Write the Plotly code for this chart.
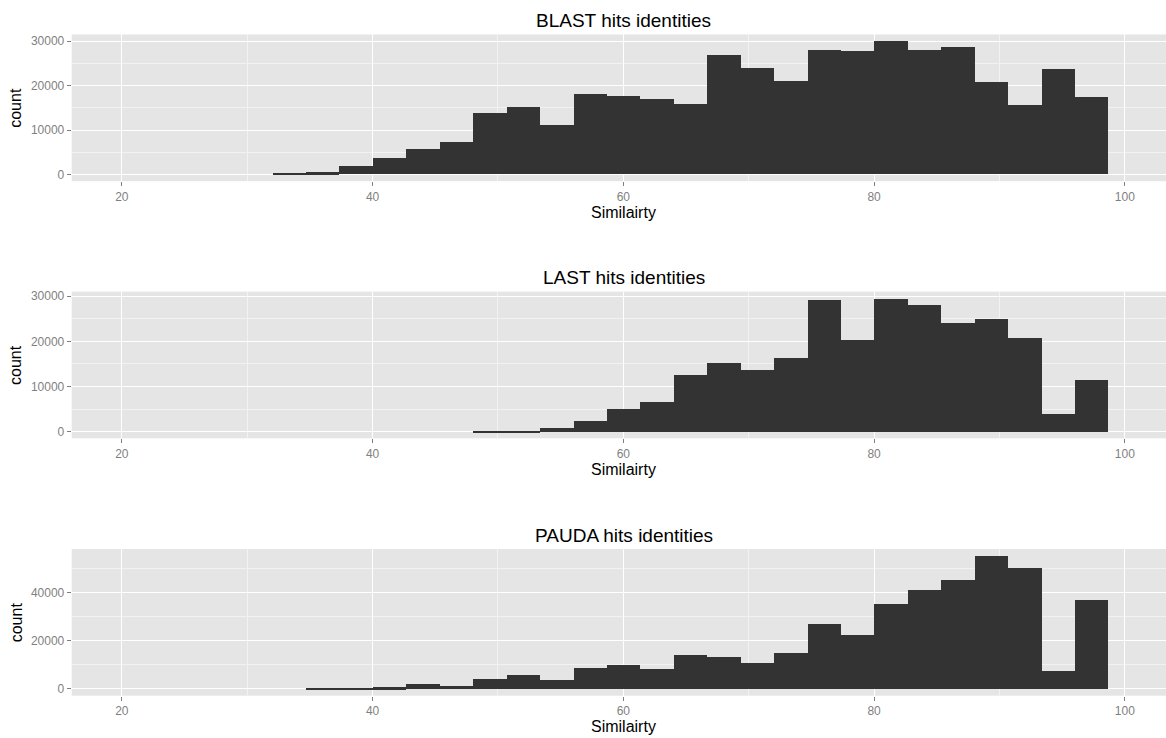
import plotly.graph_objects as go

# Histogram bins of percent similarity (bin width 8/3, left edges)
bin_width = 8 / 3
bin_left = [32.0, 34.667, 37.333, 40.0, 42.667, 45.333, 48.0, 50.667, 53.333,
            56.0, 58.667, 61.333, 64.0, 66.667, 69.333, 72.0, 74.667, 77.333,
            80.0, 82.667, 85.333, 88.0, 90.667, 93.333, 96.0]

blast_counts = [150, 400, 1700, 3600, 5600, 7100, 13760, 15180, 11000,
                17950, 17580, 16980, 15860, 26700, 23930, 20940, 27900, 27600,
                30000, 27900, 28500, 20640, 15560, 23700, 17350]

last_counts = [0, 0, 0, 0, 0, 0, 100, 300, 800,
               2500, 5160, 6630, 12530, 15250, 13780, 16450, 29180, 20340,
               29550, 28080, 24240, 25050, 20850, 4050, 11640]

pauda_counts = [0, 150, 150, 830, 1940, 1390, 4170, 5830, 3600,
                8600, 9860, 8190, 14300, 13470, 10830, 15140, 26940, 22500,
                35560, 41390, 45560, 55560, 50560, 7360, 37080]

panel_titles = ["BLAST hits identities", "LAST hits identities", "PAUDA hits identities"]
panel_counts = [blast_counts, last_counts, pauda_counts]
y_dticks = [10000, 10000, 20000]
x_title = "Similairty"
y_title = "count"

W, H = 1166, 738
FONT = "Liberation Sans"
PANEL_LEFT = 71.7
PANEL_H = 147.3
panel_tops = [32.6, 290.8, 549.2]
x_range = [16, 16 + (W - PANEL_LEFT) / 12.5375]

bin_centers = [b + bin_width / 2 for b in bin_left]

fig = go.Figure()
annotations = []
for i, (title, counts, dt) in enumerate(zip(panel_titles, panel_counts, y_dticks)):
    n = "" if i == 0 else str(i + 1)
    top = panel_tops[i]
    bottom = top + PANEL_H
    fig.add_trace(go.Bar(
        x=bin_centers, y=counts, width=bin_width,
        marker=dict(color="#333333", line=dict(width=0)),
        xaxis="x" + n, yaxis="y" + n, showlegend=False, hoverinfo="x+y",
    ))
    ymax = max(counts)
    axis_common = dict(
        showgrid=True, gridcolor="#FFFFFF", gridwidth=1.4, zeroline=False,
        ticks="outside", ticklen=4, tickwidth=1, tickcolor="#7F7F7F",
        tickfont=dict(family=FONT, size=12, color="#7F7F7F"),
        showline=False,
    )
    fig.update_layout({
        "xaxis" + n: dict(
            axis_common, domain=[PANEL_LEFT / W, 1], range=x_range,
            tick0=0, dtick=20, anchor="y" + n,
            minor=dict(dtick=10, tick0=0, showgrid=True, gridcolor="#F2F2F2",
                       gridwidth=0.8, ticklen=0),
        ),
        "yaxis" + n: dict(
            axis_common, domain=[1 - bottom / H, 1 - top / H],
            range=[-0.05 * ymax, 1.05 * ymax], tick0=0, dtick=dt,
            tickformat="d", anchor="x" + n,
            minor=dict(dtick=dt / 2, tick0=0, showgrid=True, gridcolor="#F2F2F2",
                       gridwidth=0.8, ticklen=0),
        ),
    })
    cx = (PANEL_LEFT + 1175.5) / 2 / W
    annotations.append(dict(text=title, x=cx, y=1 - (top - 14) / H, xref="paper", yref="paper",
                            showarrow=False, xanchor="center", yanchor="middle",
                            font=dict(family=FONT, size=19, color="#000000")))
    annotations.append(dict(text=x_title, x=cx, y=1 - (bottom + 31) / H, xref="paper", yref="paper",
                            showarrow=False, xanchor="center", yanchor="middle",
                            font=dict(family=FONT, size=16, color="#000000")))
    annotations.append(dict(text=y_title, x=16 / W, y=1 - (top + PANEL_H / 2) / H,
                            xref="paper", yref="paper", textangle=-90,
                            showarrow=False, xanchor="center", yanchor="middle",
                            font=dict(family=FONT, size=16, color="#000000")))

fig.update_layout(
    width=W, height=H,
    margin=dict(l=0, r=0, t=0, b=0),
    paper_bgcolor="#FFFFFF", plot_bgcolor="#E5E5E5",
    bargap=0, barmode="overlay",
    annotations=annotations,
    font=dict(family=FONT),
)

fig.write_html("out.html", config={"displayModeBar": False})
